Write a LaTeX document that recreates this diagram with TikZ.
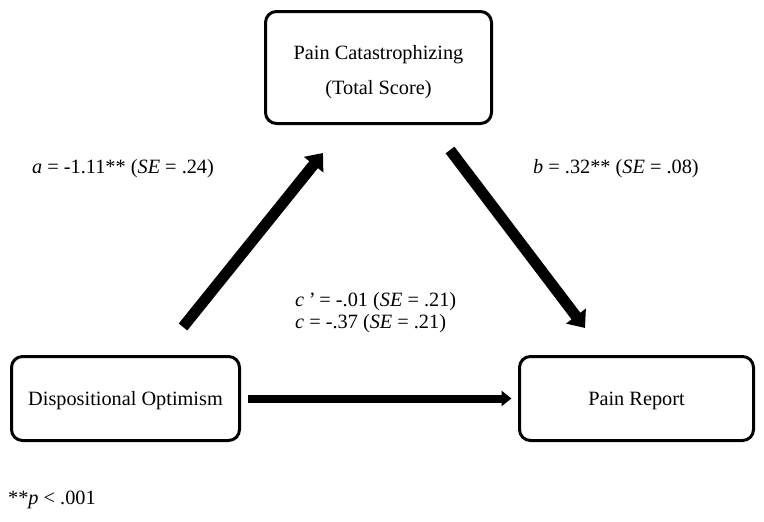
\documentclass[tikz,border=0pt]{standalone}
\usepackage{fontspec}
\setmainfont{Liberation Serif}
\usetikzlibrary{arrows.meta}
\begin{document}
\begin{tikzpicture}[x=1pt,y=-1pt,
  box/.style={draw, line width=3pt, rounded corners=11pt, inner sep=0pt},
  txt/.style={inner sep=0pt, align=center, font=\fontsize{20.3}{35}\selectfont},
  lbl/.style={anchor=base west, inner sep=0pt, font=\fontsize{20.3}{25}\selectfont},
  diagarrow/.style={line width=11pt, -{Triangle[length=15pt,width=24pt]}},
  harrow/.style={line width=8pt, -{Triangle[length=10pt,width=15pt]}}]
\useasboundingbox (0,0) rectangle (764,522);
\node[box, minimum width=226pt, minimum height=112pt] (med) at (378.5,67.5) {};
\node[box, minimum width=228pt, minimum height=84pt] (opt) at (125.5,398.5) {};
\node[box, minimum width=234pt, minimum height=84pt] (rep) at (636.5,398.5) {};
\node[txt, anchor=base] (medt1) at (378.5,59) {Pain Catastrophizing};
\node[txt, anchor=base] (medt2) at (378.5,94) {(Total Score)};
\node[txt, anchor=base] (optt) at (125.5,405) {Dispositional Optimism};
\node[txt, anchor=base] (rept) at (636.5,405) {Pain Report};
\coordinate (aS) at (183,327);
\coordinate (aE) at (323,153);
\coordinate (bS) at (450,150);
\coordinate (bE) at (585,328);
\draw[diagarrow] (aS) -- (aE);
\draw[diagarrow] (bS) -- (bE);
\draw[harrow, shorten <=6.5pt, shorten >=6.5pt] (opt.east) -- (rep.west);
\node[lbl] (la) at (32,173) {\textit{a} = -1.11** (\textit{SE} = .24)};
\node[lbl] (lb) at (533,173) {\textit{b} = .32** (\textit{SE} = .08)};
\node[lbl] (lcp) at (295,306) {\textit{c\,’} = -.01 (\textit{SE} = .21)};
\node[lbl] (lc) at (295,328) {\textit{c} = -.37 (\textit{SE} = .21)};
\node[lbl] (note) at (8,504) {**\textit{p} < .001};
\end{tikzpicture}
\end{document}
